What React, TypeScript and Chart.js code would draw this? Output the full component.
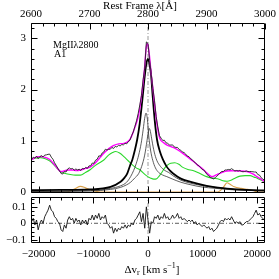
import { useEffect, useRef } from 'react';
import { Chart, registerables } from 'chart.js';

Chart.register(...registerables);

const FAM = "'Liberation Serif', 'DejaVu Serif', serif";

// ---- axis ranges / ticks ----
const V_MIN = -21413;
const V_MAX = 21413;
const WAVE_MIN = 2600;
const WAVE_MAX = 3000;
const FLUX_MIN = -0.02;
const FLUX_MAX = 3.3;
const RES_MIN = -0.12;
const RES_MAX = 0.16;

const VEL_MAJOR = [-20000, -10000, 0, 10000, 20000];
const VEL_MINOR_STEP = 2000;
const WAVE_MAJOR = [2600, 2700, 2800, 2900, 3000];
const WAVE_MINOR_STEP = 20;
const FLUX_MAJOR = [0, 1, 2, 3];
const FLUX_MINOR_STEP = 0.2;
const RES_MAJOR = [-0.1, 0, 0.1];
const RES_MINOR_STEP = 0.025;

// ---- series (velocity km/s, flux) ----
const MODEL: [number, number][] = [
  [-21400, 0.625], [-20825, 0.66], [-20089, 0.69], [-19538, 0.69], [-18987, 0.68], [-18435, 0.66],
  [-17884, 0.625], [-17332, 0.56], [-16781, 0.49], [-16413, 0.44], [-16046, 0.4], [-15678, 0.4],
  [-15127, 0.42], [-14575, 0.43], [-13840, 0.43], [-13105, 0.42], [-12370, 0.43], [-11451, 0.46],
  [-10532, 0.49], [-9613, 0.57], [-8694, 0.68], [-8142, 0.75], [-7462, 0.82], [-6856, 0.87],
  [-6249, 0.91], [-5385, 0.94], [-4411, 0.95], [-3731, 0.98], [-3180, 1.05], [-2573, 1.21],
  [-1948, 1.41], [-1526, 1.62], [-1213, 1.86], [-882, 2.15], [-607, 2.45], [-368, 2.78],
  [-184, 2.9], [37, 2.85], [276, 2.65], [588, 2.3], [864, 2.05], [1048, 1.86], [1323, 1.6],
  [1654, 1.32], [1967, 1.12], [2279, 1.02], [2757, 0.97], [3253, 0.93], [3805, 0.9], [4595, 0.87],
  [5459, 0.82], [6433, 0.75], [7297, 0.68], [8271, 0.6], [9135, 0.52], [10109, 0.44], [10789, 0.37],
  [11340, 0.32], [11708, 0.3], [12076, 0.31], [12627, 0.34], [13178, 0.365], [13730, 0.39],
  [14410, 0.41], [15200, 0.415], [16248, 0.41], [17038, 0.41], [18086, 0.4], [18876, 0.37],
  [19427, 0.34], [19924, 0.3], [20530, 0.26], [21082, 0.22], [21449, 0.2],
];

const FEII: [number, number][] = [
  [-21400, 0.64], [-20641, 0.66], [-19722, 0.67], [-18803, 0.65], [-17884, 0.6], [-16965, 0.5],
  [-16046, 0.4], [-15127, 0.36], [-14208, 0.34], [-13289, 0.33], [-12370, 0.33], [-11451, 0.38],
  [-10532, 0.44], [-9613, 0.52], [-8694, 0.58], [-8087, 0.625], [-7223, 0.72], [-6488, 0.77],
  [-5937, 0.79], [-5202, 0.76], [-4411, 0.69], [-3639, 0.61], [-2867, 0.53], [-2169, 0.47],
  [-1470, 0.43], [-423, 0.33], [496, 0.27], [1048, 0.25], [1599, 0.26], [1967, 0.3], [2518, 0.38],
  [3069, 0.47], [3621, 0.53], [4172, 0.56], [4907, 0.57], [5643, 0.54], [6378, 0.48], [7297, 0.44],
  [8216, 0.42], [9502, 0.36], [10734, 0.3], [11892, 0.27], [12995, 0.25], [13730, 0.22],
  [14465, 0.21], [15200, 0.23], [15935, 0.27], [16854, 0.31], [17773, 0.32], [18692, 0.32],
  [19427, 0.29], [19979, 0.27], [20714, 0.23], [21449, 0.2],
];

const BROAD: [number, number][] = [
  [-21400, 0.035], [-16046, 0.04], [-10532, 0.05], [-6856, 0.1], [-5018, 0.2], [-4283, 0.28],
  [-3786, 0.365], [-3235, 0.53], [-2867, 0.63], [-2445, 0.8], [-1985, 1.02], [-1526, 1.33],
  [-974, 1.86], [-607, 2.25], [-276, 2.52], [0, 2.6], [312, 2.48], [588, 2.25], [864, 1.86],
  [1231, 1.4], [1654, 1.02], [2150, 0.8], [2702, 0.64], [3382, 0.5], [3988, 0.42], [4595, 0.36],
  [6010, 0.26], [7664, 0.2], [10734, 0.12], [14410, 0.065], [17957, 0.04], [21449, 0.03],
];

const COMP1: [number, number][] = [
  [-21400, 0.01], [-10532, 0.025], [-6856, 0.07], [-5018, 0.12], [-3915, 0.19], [-3180, 0.3],
  [-2628, 0.42], [-2169, 0.55], [-1709, 0.72], [-1250, 0.95], [-882, 1.22], [-607, 1.44],
  [-368, 1.54], [-110, 1.42], [129, 1.1], [496, 0.8], [864, 0.62], [1360, 0.47], [1967, 0.38],
  [2702, 0.33], [3437, 0.3], [4540, 0.25], [6010, 0.19], [7848, 0.14], [9686, 0.1], [12443, 0.07],
  [15200, 0.045], [21449, 0.02],
];

const COMP2: [number, number][] = [
  [-21400, 0.01], [-10532, 0.02], [-6856, 0.05], [-5018, 0.09], [-3915, 0.14], [-3180, 0.19],
  [-2445, 0.27], [-1709, 0.36], [-1158, 0.5], [-607, 0.72], [-184, 1.0], [55, 1.17], [257, 1.24],
  [496, 1.15], [735, 1.0], [1140, 0.78], [1599, 0.62], [2279, 0.5], [3069, 0.42], [3805, 0.38],
  [4540, 0.32], [6010, 0.23], [7848, 0.17], [9686, 0.13], [12443, 0.09], [15200, 0.06],
  [21449, 0.025],
];

const ORANGE: [number, number][] = [
  [-21400, 0], [-15127, 0], [-14208, 0.02], [-13289, 0.07], [-12370, 0.11], [-11451, 0.08],
  [-10532, 0.04], [-9613, 0.015], [-8694, 0], [12756, 0], [13362, 0.04], [13914, 0.11],
  [14465, 0.18], [15016, 0.15], [15807, 0.1], [17038, 0.07], [18270, 0.05], [19243, 0.03],
  [20162, 0], [21449, 0],
];

// observed spectrum and residuals sampled every 300 km/s from -21300
const GRID_V0 = -21300;
const GRID_STEP = 300;

const OBS = [
  0.64, 0.68, 0.66, 0.7, 0.65, 0.69, 0.71, 0.685, 0.72, 0.725,
  0.735, 0.74, 0.68, 0.64, 0.57, 0.52, 0.46, 0.415, 0.36, 0.35,
  0.4, 0.39, 0.45, 0.47, 0.45, 0.46, 0.425, 0.45, 0.43, 0.445,
  0.42, 0.46, 0.45, 0.48, 0.46, 0.51, 0.51, 0.565, 0.56, 0.62,
  0.64, 0.705, 0.7, 0.76, 0.78, 0.835, 0.82, 0.835, 0.835, 0.87,
  0.85, 0.89, 0.88, 0.91, 0.9, 0.926, 0.92, 0.95, 0.94, 0.985,
  1.01, 1.1, 1.17, 1.28, 1.39, 1.53, 1.7, 1.88, 2.19, 2.42,
  2.93, 2.9, 2.57, 2.29, 2.02, 1.78, 1.47, 1.27, 1.1, 1.05,
  1.005, 1.01, 0.96, 0.95, 0.92, 0.915, 0.92, 0.88, 0.87, 0.87,
  0.83, 0.815, 0.78, 0.77, 0.74, 0.7, 0.69, 0.65, 0.63, 0.59,
  0.57, 0.53, 0.515, 0.48, 0.44, 0.43, 0.39, 0.34, 0.32, 0.28,
  0.27, 0.255, 0.28, 0.305, 0.34, 0.375, 0.4, 0.4, 0.43, 0.43,
  0.44, 0.435, 0.455, 0.433, 0.41, 0.42, 0.41, 0.42, 0.4, 0.395,
  0.4, 0.41, 0.4, 0.4, 0.4, 0.395, 0.39, 0.39, 0.34, 0.33,
  0.28, 0.255, 0.23, 0.22,
];

const RESID = [
  0.01, 0.03, -0.01, 0.02, -0.04, 0.0, 0.02, 0.0, 0.04, 0.06,
  0.08, 0.11, 0.08, 0.07, 0.04, 0.03, 0.01, 0.0, -0.04, -0.05,
  -0.01, -0.03, 0.02, 0.04, 0.02, 0.03, 0.0, 0.03, 0.01, 0.02,
  -0.01, 0.02, 0.0, 0.02, -0.01, 0.03, 0.02, 0.05, 0.02, 0.05,
  0.03, 0.06, 0.02, 0.04, 0.03, 0.05, 0.0, -0.01, -0.03, -0.02,
  -0.06, -0.03, -0.05, -0.03, -0.04, -0.02, -0.03, -0.01, -0.03, -0.01,
  -0.02, 0.0, -0.01, 0.02, 0.03, 0.05, 0.07, 0.01, 0.06, -0.03,
  0.1, 0.02, -0.06, 0.01, 0.0, 0.04, 0.03, 0.05, 0.02, 0.04,
  0.03, 0.06, 0.03, 0.04, 0.02, 0.03, 0.05, 0.03, 0.04, 0.06,
  0.03, 0.04, 0.02, 0.03, 0.02, 0.01, 0.02, 0.01, 0.02, 0.0,
  0.01, -0.01, 0.0, -0.01, -0.02, -0.01, -0.02, -0.03, -0.02, -0.04,
  -0.03, -0.05, -0.04, -0.03, -0.01, 0.01, 0.02, 0.01, 0.03, 0.02,
  0.03, 0.02, 0.04, 0.02, 0.0, 0.01, 0.0, 0.01, -0.01, -0.01,
  0.0, 0.01, 0.01, 0.02, 0.03, 0.04, 0.06, 0.08, 0.05, 0.06,
  0.04, 0.03, 0.02, 0.02,
];

const LINE_LABEL = 'MgIIλ2800';
const POP_LABEL = 'A1';
const TOP_TITLE = 'Rest Frame λ[Å]';

// ---- helpers ----
const toPts = (arr: [number, number][]) => arr.map(([x, y]) => ({ x, y }));
const gridPts = (vals: number[]) => vals.map((y, i) => ({ x: GRID_V0 + i * GRID_STEP, y }));
const fmt = (v: number) => (v < 0 ? '−' + String(Math.abs(v)) : String(v));

function stepValues(min: number, max: number, step: number) {
  const out: number[] = [];
  const n0 = Math.ceil(min / step - 1e-9);
  const n1 = Math.floor(max / step + 1e-9);
  for (let n = n0; n <= n1; n++) out.push(Math.round(n * step * 1e6) / 1e6);
  return out;
}
const isMajor = (v: number, majors: number[]) => majors.some((m) => Math.abs(m - v) < 1e-6);

type Side = 'top' | 'bottom' | 'left' | 'right';
type AxisSpec = { id: string; majors: number[]; step: number; sides: Side[] };

function frameTicks(specs: AxisSpec[]) {
  return {
    id: 'frameTicks',
    afterDraw(chart: any) {
      const { ctx, chartArea: a } = chart;
      const L = Math.round(a.left) + 0.5;
      const R = Math.round(a.right) - 0.5;
      const T = Math.round(a.top) + 0.5;
      const B = Math.round(a.bottom) - 0.5;
      ctx.save();
      ctx.strokeStyle = '#000';
      ctx.lineWidth = 1;
      ctx.beginPath();
      ctx.rect(L, T, R - L, B - T);
      for (const s of specs) {
        const sc = chart.scales[s.id];
        for (const v of stepValues(sc.min, sc.max, s.step)) {
          const len = isMajor(v, s.majors) ? 6 : 3;
          const p = Math.round(sc.getPixelForValue(v)) + 0.5;
          for (const side of s.sides) {
            if (side === 'top') { ctx.moveTo(p, T); ctx.lineTo(p, T + len); }
            if (side === 'bottom') { ctx.moveTo(p, B); ctx.lineTo(p, B - len); }
            if (side === 'left') { ctx.moveTo(L, p); ctx.lineTo(L + len, p); }
            if (side === 'right') { ctx.moveTo(R, p); ctx.lineTo(R - len, p); }
          }
        }
      }
      ctx.stroke();
      ctx.restore();
    },
  };
}

const topTexts = {
  id: 'topTexts',
  afterDraw(chart: any) {
    const { ctx, chartArea: a } = chart;
    ctx.save();
    ctx.fillStyle = '#000';
    ctx.textBaseline = 'middle';
    ctx.textAlign = 'center';
    ctx.font = `11px ${FAM}`;
    ctx.fillText(TOP_TITLE, (a.left + a.right) / 2 - 8, 6);
    ctx.textAlign = 'left';
    ctx.font = `10px ${FAM}`;
    ctx.fillText(LINE_LABEL, a.left + 22, a.top + 22);
    ctx.fillText(POP_LABEL, a.left + 23, a.top + 31);
    ctx.restore();
  },
};

const bottomTitle = {
  id: 'bottomTitle',
  afterDraw(chart: any) {
    const { ctx, chartArea: a } = chart;
    const parts = [
      { t: 'Δv', s: 11, dy: 0 },
      { t: 'r', s: 8, dy: 2.5 },
      { t: ' [km s', s: 11, dy: 0 },
      { t: '−1', s: 8, dy: -4 },
      { t: ']', s: 11, dy: 0 },
    ];
    ctx.save();
    ctx.fillStyle = '#000';
    ctx.textBaseline = 'middle';
    ctx.textAlign = 'left';
    const widths = parts.map((p) => {
      ctx.font = `${p.s}px ${FAM}`;
      return ctx.measureText(p.t).width;
    });
    const total = widths.reduce((s, w) => s + w, 0);
    let x = (a.left + a.right) / 2 + 4 - total / 2;
    const y = a.bottom + 27;
    parts.forEach((p, i) => {
      ctx.font = `${p.s}px ${FAM}`;
      ctx.fillText(p.t, x, y + p.dy);
      x += widths[i];
    });
    ctx.restore();
  },
};

const tickFont = { family: FAM, size: 11 };

function line(data: any[], color: string, width: number, extra: any = {}) {
  return {
    data,
    borderColor: color,
    borderWidth: width,
    pointRadius: 0,
    fill: false,
    tension: 0,
    ...extra,
  };
}

export default function App() {
  const topRef = useRef<HTMLCanvasElement>(null);
  const botRef = useRef<HTMLCanvasElement>(null);

  useEffect(() => {
    const smooth = { cubicInterpolationMode: 'monotone' };
    const top = new Chart(topRef.current as HTMLCanvasElement, {
      type: 'line',
      data: {
        datasets: [
          line(gridPts(OBS), '#222', 0.9),
          line(toPts(MODEL), '#ff00ff', 1.4, smooth),
          line(toPts(BROAD), '#000', 1.8, smooth),
          line(toPts(COMP1), '#333', 0.8, smooth),
          line(toPts(COMP2), '#333', 0.8, smooth),
          line(toPts(FEII), '#2bd82b', 1.1, smooth),
          line(toPts(ORANGE), '#d9a04a', 1.1, smooth),
          line([{ x: 0, y: FLUX_MIN }, { x: 0, y: FLUX_MAX }], '#9a9a9a', 1, { borderDash: [4, 2, 1, 2] }),
        ] as any,
      },
      options: {
        responsive: false,
        animation: false,
        devicePixelRatio: 1,
        events: [],
        layout: { padding: { left: 0, right: 14, top: 0, bottom: 2 } },
        plugins: { legend: { display: false }, tooltip: { enabled: false } },
        scales: {
          x: { type: 'linear', position: 'bottom', min: V_MIN, max: V_MAX, display: false },
          xTop: {
            type: 'linear',
            position: 'top',
            min: WAVE_MIN,
            max: WAVE_MAX,
            grid: { display: false, drawTicks: false },
            border: { display: false },
            ticks: { font: tickFont, color: '#000', padding: 2, maxRotation: 0, autoSkip: false, callback: (v: any) => fmt(Number(v)) },
            afterBuildTicks: (s: any) => { s.ticks = WAVE_MAJOR.map((value) => ({ value })); },
            afterFit: (s: any) => { s.height = 23; s.paddingLeft = 0; s.paddingRight = 0; },
          },
          y: {
            type: 'linear',
            position: 'left',
            min: FLUX_MIN,
            max: FLUX_MAX,
            grid: { display: false, drawTicks: false },
            border: { display: false },
            ticks: { font: tickFont, color: '#000', padding: 5, autoSkip: false, callback: (v: any) => fmt(Number(v)) },
            afterBuildTicks: (s: any) => { s.ticks = FLUX_MAJOR.map((value) => ({ value })); },
            afterFit: (s: any) => { s.width = 31; s.paddingTop = 0; s.paddingBottom = 0; },
          },
        },
      } as any,
      plugins: [
        frameTicks([
          { id: 'xTop', majors: WAVE_MAJOR, step: WAVE_MINOR_STEP, sides: ['top'] },
          { id: 'x', majors: VEL_MAJOR, step: VEL_MINOR_STEP, sides: ['bottom'] },
          { id: 'y', majors: FLUX_MAJOR, step: FLUX_MINOR_STEP, sides: ['left', 'right'] },
        ]),
        topTexts,
      ],
    });

    const bot = new Chart(botRef.current as HTMLCanvasElement, {
      type: 'line',
      data: {
        datasets: [
          line(gridPts(RESID), '#111', 0.9),
          line([{ x: V_MIN, y: 0 }, { x: V_MAX, y: 0 }], '#333', 0.8, { borderDash: [4, 2, 1, 2] }),
          line([{ x: 0, y: RES_MIN }, { x: 0, y: RES_MAX }], '#9a9a9a', 1, { borderDash: [4, 2, 1, 2] }),
        ] as any,
      },
      options: {
        responsive: false,
        animation: false,
        devicePixelRatio: 1,
        events: [],
        layout: { padding: { left: 0, right: 14, top: 2, bottom: 0 } },
        plugins: { legend: { display: false }, tooltip: { enabled: false } },
        scales: {
          x: {
            type: 'linear',
            position: 'bottom',
            min: V_MIN,
            max: V_MAX,
            grid: { display: false, drawTicks: false },
            border: { display: false },
            ticks: { font: tickFont, color: '#000', padding: 5, maxRotation: 0, autoSkip: false, callback: (v: any) => fmt(Number(v)) },
            afterBuildTicks: (s: any) => { s.ticks = VEL_MAJOR.map((value) => ({ value })); },
            afterFit: (s: any) => { s.height = 36; s.paddingLeft = 0; s.paddingRight = 0; },
          },
          y: {
            type: 'linear',
            position: 'left',
            min: RES_MIN,
            max: RES_MAX,
            grid: { display: false, drawTicks: false },
            border: { display: false },
            ticks: { font: tickFont, color: '#000', padding: 5, autoSkip: false, callback: (v: any) => fmt(Number(v)) },
            afterBuildTicks: (s: any) => { s.ticks = RES_MAJOR.map((value) => ({ value })); },
            afterFit: (s: any) => { s.width = 31; s.paddingTop = 0; s.paddingBottom = 0; },
          },
        },
      } as any,
      plugins: [
        frameTicks([
          { id: 'x', majors: VEL_MAJOR, step: VEL_MINOR_STEP, sides: ['top', 'bottom'] },
          { id: 'y', majors: RES_MAJOR, step: RES_MINOR_STEP, sides: ['left', 'right'] },
        ]),
        bottomTitle,
      ],
    });

    return () => {
      top.destroy();
      bot.destroy();
    };
  }, []);

  return (
    <div style={{ position: 'fixed', left: 0, top: 0, width: 279, height: 279, background: '#fff' }}>
      <canvas ref={topRef} width={279} height={195} style={{ position: 'absolute', left: 0, top: 0, width: 279, height: 195 }} />
      <canvas ref={botRef} width={279} height={84} style={{ position: 'absolute', left: 0, top: 195, width: 279, height: 84 }} />
    </div>
  );
}
